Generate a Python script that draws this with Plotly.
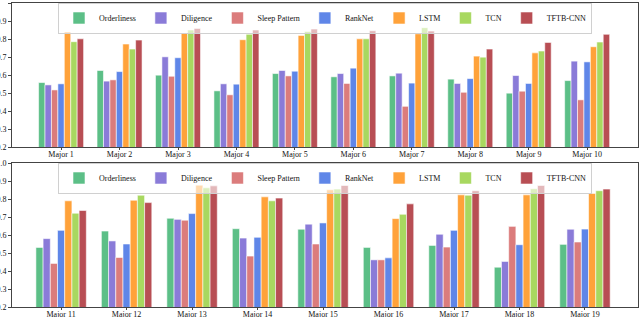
import plotly.graph_objects as go
from plotly.subplots import make_subplots

series = ["Orderliness", "Diligence", "Sleep Pattern", "RankNet", "LSTM", "TCN", "TFTB-CNN"]
colors = ["#5cbf87", "#8a7bd8", "#db7c7c", "#5f86e8", "#ffa23a", "#a8d860", "#b84e54"]

majors_top = ["Major %d" % i for i in range(1, 11)]
majors_bot = ["Major %d" % i for i in range(11, 20)]

top_orderliness = [0.558, 0.625, 0.599, 0.512, 0.608, 0.590, 0.595, 0.577, 0.499, 0.569]
top_diligence = [0.545, 0.566, 0.701, 0.551, 0.625, 0.608, 0.610, 0.553, 0.597, 0.677]
top_sleep = [0.517, 0.573, 0.593, 0.490, 0.595, 0.553, 0.426, 0.504, 0.510, 0.462]
top_ranknet = [0.551, 0.619, 0.696, 0.549, 0.621, 0.638, 0.555, 0.580, 0.553, 0.673]
top_lstm = [0.839, 0.772, 0.833, 0.796, 0.820, 0.801, 0.829, 0.705, 0.723, 0.757]
top_tcn = [0.785, 0.744, 0.850, 0.826, 0.842, 0.801, 0.863, 0.699, 0.733, 0.783]
top_tftb = [0.801, 0.794, 0.859, 0.850, 0.855, 0.846, 0.844, 0.744, 0.781, 0.826]

bot_orderliness = [0.531, 0.622, 0.693, 0.635, 0.632, 0.531, 0.542, 0.421, 0.548]
bot_diligence = [0.580, 0.567, 0.687, 0.583, 0.660, 0.462, 0.604, 0.453, 0.632]
bot_sleep = [0.442, 0.475, 0.682, 0.483, 0.550, 0.462, 0.533, 0.648, 0.561]
bot_ranknet = [0.626, 0.550, 0.719, 0.587, 0.667, 0.473, 0.626, 0.546, 0.633]
bot_lstm = [0.790, 0.793, 0.877, 0.812, 0.851, 0.691, 0.823, 0.823, 0.831]
bot_tcn = [0.721, 0.821, 0.862, 0.790, 0.855, 0.715, 0.821, 0.857, 0.846]
bot_tftb = [0.736, 0.780, 0.873, 0.805, 0.875, 0.773, 0.846, 0.875, 0.855]

top_vals = [top_orderliness, top_diligence, top_sleep, top_ranknet, top_lstm, top_tcn, top_tftb]
bot_vals = [bot_orderliness, bot_diligence, bot_sleep, bot_ranknet, bot_lstm, bot_tcn, bot_tftb]
yticks = [0.2, 0.3, 0.4, 0.5, 0.6, 0.7, 0.8, 0.9, 1.0]

H = 317.0
fig = make_subplots(rows=2, cols=1, shared_xaxes=False, vertical_spacing=0.05)

edge = dict(color="rgba(255,255,255,0.7)", width=0.8)
for name, col, v in zip(series, colors, top_vals):
    fig.add_trace(go.Bar(x=majors_top, y=v, name=name, marker=dict(color=col, line=edge),
                         legend="legend"), row=1, col=1)
for name, col, v in zip(series, colors, bot_vals):
    fig.add_trace(go.Bar(x=majors_bot, y=v, name=name, marker=dict(color=col, line=edge),
                         legend="legend2"), row=2, col=1)

font = dict(family="Liberation Serif, Times New Roman, serif", size=8, color="#111")
axis_common = dict(showline=True, linecolor="#444", linewidth=1, mirror=True, showgrid=False,
                   tickcolor="#444", tickfont=font, zeroline=False, automargin=False)

fig.update_xaxes(**axis_common, ticks="outside", ticklen=2, ticklabelstandoff=-3)
fig.update_yaxes(**axis_common, ticks="outside", ticklen=3, range=[0.2, 1.0], tickvals=yticks,
                 tickformat=".1f")

fig.update_layout(
    xaxis=dict(domain=[0, 1], range=[-0.84, 9.87]),
    xaxis2=dict(domain=[0, 1], range=[-0.75, 8.81]),
    yaxis=dict(domain=[1 - 147 / H, 1 - 3 / H]),
    yaxis2=dict(domain=[1 - 307 / H, 1 - 163 / H]),
)

legend_style = dict(orientation="h", xanchor="center", yanchor="top", font=font,
                    bgcolor="rgba(255,255,255,0.6)", bordercolor="#d0d0d0", borderwidth=1,
                    itemwidth=30, tracegroupgap=0, itemclick=False)
fig.update_layout(
    width=640, height=317,
    margin=dict(l=12, r=2, t=0, b=0, autoexpand=False),
    barmode="group", bargap=0.23, bargroupgap=0,
    plot_bgcolor="white", paper_bgcolor="white",
    font=font,
    legend=dict(x=0.5, y=1 - 2.5 / H, **legend_style),
    legend2=dict(x=0.5, y=1 - 162.5 / H, **legend_style),
)

fig.write_html("out.html", config={"displayModeBar": False, "staticPlot": True},
               post_script="document.body.style.margin='0';document.body.style.overflow='hidden';")
